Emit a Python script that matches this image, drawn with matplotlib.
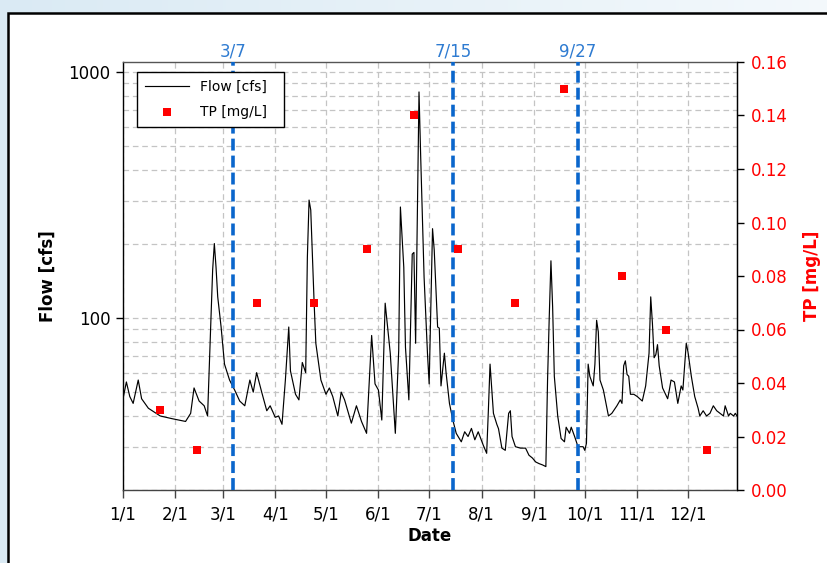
import numpy as np
import matplotlib
matplotlib.use("Agg")
import matplotlib.pyplot as plt
import matplotlib.transforms as mtransforms
from matplotlib.ticker import LogLocator, NullFormatter, FixedLocator, FuncFormatter, MultipleLocator
from matplotlib.patches import Rectangle
from matplotlib.lines import Line2D

YEAR_START = np.datetime64("2019-01-01")

# Daily stream flow (day of year offset from Jan 1, flow in cfs)
flow_day = [0, 2, 4, 6, 9, 11, 15, 22, 29, 37, 40, 42, 45, 48, 50, 52, 53, 54, 55, 56,
            58, 60, 63, 66, 69, 72, 75, 77, 79, 82, 85, 87, 90, 92, 94, 96, 98, 99, 102, 104,
            106, 108, 109, 110, 111, 113, 114, 117, 120, 122, 124, 127, 129, 131, 135, 138, 141, 144, 147, 149,
            151, 153, 155, 158, 161, 163, 164, 166, 167, 169, 171, 172, 173, 174, 175, 176, 178, 180, 181, 183,
            184, 186, 187, 188, 190, 191, 193, 195, 197, 200, 202, 204, 206, 208, 210, 213, 215, 216, 217, 219,
            221, 222, 224, 226, 228, 229, 230, 232, 235, 238, 240, 242, 244, 246, 248, 250, 251, 252, 253, 254,
            255, 257, 259, 261, 262, 264, 265, 267, 269, 272, 273, 274, 275, 276, 278, 279, 280, 281, 282, 284,
            287, 289, 292, 294, 295, 296, 297, 298, 299, 300, 302, 304, 307, 309, 311, 312, 313, 314, 315, 316,
            317, 319, 322, 323, 324, 326, 328, 330, 331, 333, 334, 336, 338, 340, 341, 343, 345, 347, 349, 351,
            353, 355, 356, 358, 359, 361, 362, 363]
flow_cfs = [47, 55, 48, 45, 56, 47, 43, 40, 39, 38, 41, 52, 46, 44, 40, 98, 157, 201, 161, 122,
            92, 65, 56, 51, 46, 44, 56, 50, 60, 50, 42, 44, 39.5, 40, 37, 56, 92, 61, 49, 46.5,
            66, 60, 177, 302, 275, 115, 79, 56, 49, 52, 48, 40, 50, 46.5, 37.4, 44, 38, 34, 85, 54,
            51, 38.5, 115, 72, 34, 74, 283, 161, 76, 46.5, 182, 185, 79, 266, 831, 452, 147, 72, 54, 231,
            189, 92, 91, 53, 72, 60, 45, 38.5, 34, 31.4, 34.5, 33, 35.6, 32, 34.5, 30.4, 28.2, 42, 65, 41,
            37, 35.5, 29.6, 29, 41, 42, 33, 30, 29.6, 29.6, 27.7, 27, 26, 25.6, 25.3, 24.9, 56, 101, 171, 111,
            58, 40, 32.4, 31.4, 36, 34, 36, 33, 30, 30, 29, 31, 65, 58, 53, 65, 98, 88, 56, 51,
            40, 41, 44, 46.5, 45, 64, 67, 59, 58, 49, 49, 48, 46, 53, 72, 122, 95, 69, 71, 78,
            64, 52, 47, 51, 56, 55, 45, 53, 51, 79, 73, 58, 48, 43, 40, 42, 40, 41, 44, 42,
            41, 40, 44, 40, 41, 40, 41, 40]

# Total phosphorus grab samples
tp_dates = ["2019-01-23", "2019-02-14", "2019-03-21", "2019-04-24", "2019-05-25", "2019-06-22",
            "2019-07-18", "2019-08-21", "2019-09-19", "2019-10-23", "2019-11-18", "2019-12-12"]
tp_mgL = [0.03, 0.015, 0.07, 0.07, 0.09, 0.14, 0.09, 0.07, 0.15, 0.08, 0.06, 0.015]

# Marked sampling events
event_dates = ["2019-03-07", "2019-07-15", "2019-09-27"]
event_labels = ["3/7", "7/15", "9/27"]

month_ticks = ["2019-01-01", "2019-02-01", "2019-03-01", "2019-04-01", "2019-05-01", "2019-06-01",
               "2019-07-01", "2019-08-01", "2019-09-01", "2019-10-01", "2019-11-01", "2019-12-01"]
month_labels = ["1/1", "2/1", "3/1", "4/1", "5/1", "6/1", "7/1", "8/1", "9/1", "10/1", "11/1", "12/1"]

plt.rcParams["font.family"] = ["DejaVu Sans"]

W, H = 828, 563
fig = plt.figure(figsize=(W / 100, H / 100), dpi=100)

# Soft blue backdrop with a white bordered panel
bg = fig.add_axes([0, 0, 1, 1], zorder=-10)
grad = np.linspace(0, 1, 256)[None, :, None]
c0 = np.array([0.855, 0.918, 0.957])
c1 = np.array([0.955, 0.975, 0.988])
img = c0 + (c1 - c0) * grad
bg.imshow(np.repeat(img, 2, axis=0), extent=[0, 1, 0, 1], aspect="auto")
bg.set_xlim(0, 1)
bg.set_ylim(0, 1)
bg.axis("off")
bg.add_patch(Rectangle((8 / W, -0.05), 1.2, 1 - 12.5 / H + 0.05, facecolor="white",
                       edgecolor="black", linewidth=1.8))

ax = fig.add_axes([123 / W, 1 - 490 / H, (737 - 123) / W, (490 - 62) / H])
ax2 = ax.twinx()

fdates = YEAR_START + np.array(flow_day, dtype="timedelta64[D]")
ax.plot(fdates, flow_cfs, color="black", lw=0.85, zorder=3)

ax.set_yscale("log")
ax.set_ylim(20, 1100)
ax.set_xlim(np.datetime64("2019-01-01"), np.datetime64("2019-12-30"))

ax.yaxis.set_major_locator(FixedLocator([100, 1000]))
ax.yaxis.set_major_formatter(FuncFormatter(lambda v, p: f"{v:.0f}"))
ax.yaxis.set_minor_locator(LogLocator(base=10, subs=np.arange(2, 10), numticks=20))
ax.yaxis.set_minor_formatter(NullFormatter())

mt = np.array(month_ticks, dtype="datetime64[D]")
ax.set_xticks(mt)
ax.set_xticklabels(month_labels)

grid_kw = dict(color="#c4c4c4", linestyle=(0, (4.5, 3)), linewidth=0.9)
ax.grid(which="both", axis="y", **grid_kw)
ax.grid(which="major", axis="x", **grid_kw)
ax.set_axisbelow(True)

ax.tick_params(axis="y", which="major", length=5, width=1, labelsize=12, pad=4, colors="black")
ax.tick_params(axis="y", which="minor", length=0)
ax.tick_params(axis="x", which="major", length=6, width=1, labelsize=12, pad=5, color="#444444")

ax.spines["left"].set_color("black")
ax.spines["bottom"].set_color("#444444")
ax.spines["top"].set_color("#555555")
for s in ax.spines.values():
    s.set_linewidth(1.0)

# Phosphorus on secondary axis
tdates = np.array(tp_dates, dtype="datetime64[D]")
ax2.plot(tdates, tp_mgL, linestyle="none", marker="s", ms=6.3, color="#ff0000",
         markeredgewidth=0, zorder=5)
ax2.set_ylim(0, 0.16)
ax2.yaxis.set_major_locator(MultipleLocator(0.02))
ax2.yaxis.set_major_formatter(FuncFormatter(lambda v, p: f"{v:.2f}"))
ax2.tick_params(axis="y", length=5, width=1, labelsize=12, pad=5, color="black", labelcolor="#ff0000")
ax2.spines["right"].set_color("black")
ax2.spines["top"].set_visible(False)
ax2.spines["left"].set_visible(False)
ax2.spines["bottom"].set_visible(False)

# Event markers (drawn under the legend)
trans = mtransforms.blended_transform_factory(ax2.transData, ax2.transAxes)
for d, lab in zip(event_dates, event_labels):
    dd = np.datetime64(d)
    ax2.axvline(dd, color="#0a66cc", lw=2.6, dashes=(3.3, 1.4), zorder=2)
    ax2.text(dd, 1.004, lab, transform=trans, ha="center", va="bottom",
             color="#2e7bd1", fontsize=12)

ax.set_ylabel("Flow [cfs]", fontsize=12, fontweight="bold", labelpad=8)
ax.set_xlabel("Date", fontsize=12, fontweight="bold", labelpad=3)
ax2.set_ylabel("TP [mg/L]", fontsize=12, fontweight="bold", color="#ff0000", labelpad=11)

handles = [Line2D([], [], color="black", lw=0.85),
           Line2D([], [], linestyle="none", marker="s", ms=6.3, color="#ff0000", markeredgewidth=0)]
leg = ax2.legend(handles, ["Flow [cfs]", "TP [mg/L]  "], loc="upper left",
                 bbox_to_anchor=(14 / 614, 1 - 10 / 428), borderaxespad=0, fontsize=10,
                 frameon=True, fancybox=False, framealpha=1, edgecolor="black",
                 handlelength=3.2, handletextpad=0.8, borderpad=0.55, labelspacing=0.85)
leg.get_frame().set_linewidth(1.0)
leg.set_zorder(10)

fig.savefig("out.png", dpi=100)
